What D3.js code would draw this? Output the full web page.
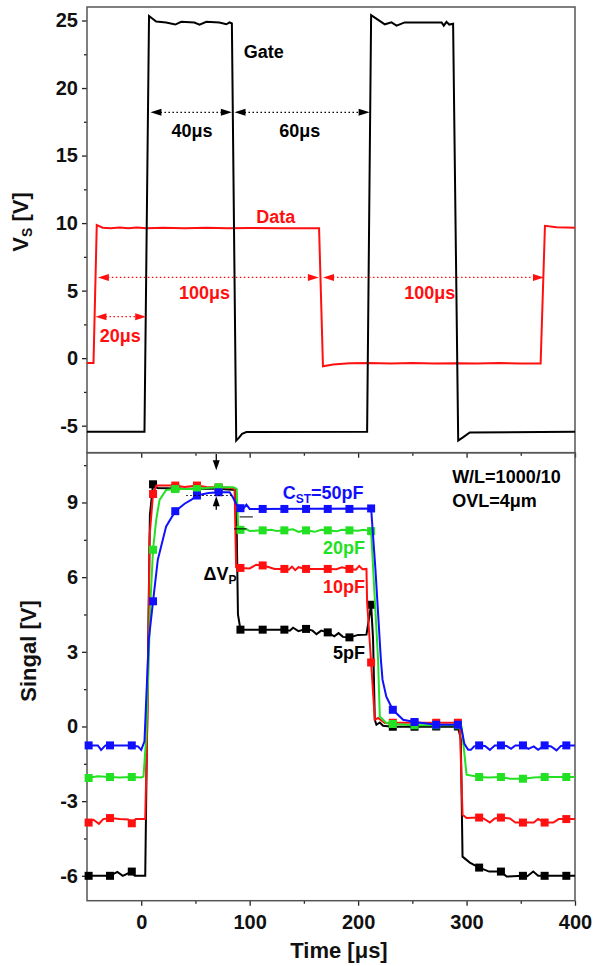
<!DOCTYPE html>
<html>
<head>
<meta charset="utf-8">
<title>Gate / data pulses and storage signal</title>
<style>
body { margin: 0; background: #fff; }
svg text { font-family: "Liberation Sans", Arial, sans-serif; font-weight: bold; }
</style>
</head>
<body>
<div id="chart"></div>
<script src="https://d3js.org/d3.v7.min.js"></script>
<script>
// ---- values (time in us, volts) ----

// top panel
const gateWave = [[-50,-5.45],[3,-5.45],[7.2,25.33],[13.8,24.93],[23,24.85],[31.4,24.7],[36.9,24.9],
  [49,24.85],[53.8,24.7],[60,24.9],[72,24.85],[78.5,24.72],[81.5,24.86],[83.6,24.78],[87.6,-6.1],
  [90,-5.9],[93,-5.6],[97,-5.47],[208.3,-5.45],[212,25.4],[224.6,24.72],[230.8,24.86],[235.4,24.62],
  [243,24.86],[277,24.86],[279,24.62],[281.5,24.9],[284,24.7],[287.6,24.76],[292.3,-6.1],[297,-5.85],
  [303,-5.5],[400,-5.45]];

const dataWave = [[-50,-0.35],[-44,-0.35],[-41,9.85],[-35.5,9.66],[-28,9.62],[-20,9.68],[-12,9.62],
  [-4,9.67],[5,9.62],[20,9.66],[40,9.62],[60,9.66],[80,9.62],[100,9.64],[130,9.62],[164,9.62],
  [167.6,-0.6],[176.9,-0.47],[192,-0.38],[210,-0.36],[230,-0.4],[250,-0.36],[270,-0.4],[290,-0.37],
  [310,-0.4],[330,-0.36],[350,-0.4],[368.3,-0.4],[372.3,9.8],[383,9.7],[400,9.65]];

// bottom panel: traces
const line5pF = [[-50,-6],[-29,-6],[-22,-5.84],[-17,-6],[-8.7,-5.83],[-6,-6],[3.7,-6],[6,2],[8,8.5],
  [10.9,9.73],[15,9.58],[40,9.55],[70,9.55],[87.5,9.5],[89.2,4.5],[91.5,3.89],[132,3.89],[137,3.85],
  [140,3.97],[145,3.83],[152,3.92],[158,3.85],[161.6,3.71],[166,3.85],[172,3.78],[178,3.62],[182,3.75],
  [186,3.6],[192,3.58],[200,3.68],[207.7,3.69],[212,4.89],[213.8,3.5],[215.4,0.27],[216.9,0.07],
  [220,0.16],[223,0.03],[232,-0.01],[292,0],[294.7,-0.5],[296.3,-5.23],[303,-5.47],[311.6,-5.67],
  [320.9,-5.83],[331.7,-5.83],[336.9,-6.03],[352,-6],[356,-6.02],[361.5,-5.83],[366,-6],[400,-6]];

const line10pF = [[-50,-3.85],[-44,-3.75],[-39,-3.91],[-35,-3.72],[-28.8,-3.68],[-20,-3.72],[-12,-3.74],
  [-8.7,-3.89],[-5,-3.72],[3.7,-3.72],[6.1,1.07],[7.7,7.64],[10.9,9.34],[14,9.68],[31.4,9.68],[40,9.62],
  [51.4,9.68],[60,9.62],[71.4,9.6],[80,9.6],[86.1,9.55],[87.5,6.4],[91.5,6.37],[100,6.35],[106,6.5],
  [112,6.47],[118,6.4],[123,6.33],[132,6.33],[136,6.3],[139,6.42],[142,6.28],[145,6.4],[152,6.33],
  [172,6.33],[180,6.32],[185,6.4],[192,6.33],[198,6.3],[201,6.45],[204,6.32],[207.7,6.33],[208.3,5],
  [212,2.57],[215.4,0.27],[218.4,0.34],[224.6,0.14],[232,0.15],[272,0.15],[290.8,0.15],[293.8,0.07],
  [296.3,-3.55],[300,-3.68],[311.6,-3.66],[316,-3.7],[321.5,-3.86],[326,-3.7],[331.7,-3.66],[340,-3.7],
  [345,-3.86],[352,-3.86],[362,-3.86],[366,-3.72],[372,-3.86],[380,-3.86],[385,-3.72],[392,-3.72],[400,-3.72]];

const line20pF = [[-50,-2.07],[-40,-2],[-28.8,-2.03],[-20,-2.05],[-8.7,-2.03],[0,-2.05],[2.1,-2.01],
  [4.5,-0.5],[6,1.5],[8.5,5],[10.9,7.1],[13.8,8.3],[16.9,9.1],[23,9.5],[31.4,9.54],[51.4,9.54],[60,9.58],
  [71.4,9.61],[85,9.61],[88,9.55],[89.5,7.9],[91.5,7.9],[97,7.93],[100,7.85],[112,7.88],[120,7.9],
  [125,7.85],[132,7.88],[140,7.92],[145,7.82],[152,7.88],[160,7.82],[166,7.9],[172,7.88],[180,7.84],
  [185,7.9],[192,7.88],[200,7.86],[205,7.9],[212,7.85],[218.4,2.68],[220,0.4],[226,0.14],[232,0.1],
  [252,0.05],[272,0.05],[292,0.05],[295.4,0],[300,-1.94],[311.6,-2.03],[320,-2.05],[331.7,-2.03],
  [340,-2.1],[352,-2.1],[362,-2.05],[372,-2.03],[392,-2.03],[400,-2.03]];

const line50pF = [[-50,-0.76],[-40,-0.76],[-37,-0.94],[-33,-0.76],[-8.7,-0.76],[-3,-0.8],[0,-0.94],
  [3,-0.6],[4.6,1.07],[7,3.5],[10.9,5.03],[15.3,6.7],[23,8.04],[31.4,8.65],[40,8.95],[46,9.1],[51.4,9.28],
  [62,9.38],[71.4,9.41],[81.5,9.41],[84.6,9.2],[88,8.9],[91.5,8.77],[94,8.74],[97,8.91],[100,8.74],
  [212,8.76],[216,6.3],[221,2.68],[222.5,1.88],[226,1.2],[232,0.67],[241.5,0.27],[252,0.18],[272,0.07],
  [292,0.07],[295.4,-0.1],[298,-0.7],[301.5,-0.94],[304,-0.94],[307,-0.8],[311.6,-0.76],[317,-0.78],
  [321.5,-0.94],[326,-0.76],[331.7,-0.76],[337,-0.78],[341,-0.9],[345,-0.76],[352,-0.76],[357,-0.9],
  [362,-0.8],[366,-0.94],[372,-0.76],[378,-0.8],[383,-0.96],[387,-0.78],[392,-0.76],[400,-0.76]];

// bottom panel: square symbols (same sample times for every trace)
const markTimes = [-48.5,-28.8,-8.7,10.9,31.4,51.4,71.4,91.5,112,132,152,172,192,212,232,252,272,292,311.6,331.7,352,372,392];
const mark5pF  = [-6,-6,-5.83,9.73,9.58,9.55,9.55,3.89,3.89,3.89,3.92,3.78,3.58,4.89,-0.01,-0.01,0,0,-5.67,-5.83,-6,-6,-6];
const mark10pF = [-3.86,-3.68,-3.89,9.34,9.68,9.68,9.6,6.37,6.47,6.33,6.33,6.33,6.33,2.57,0.15,0.15,0.15,0.15,-3.66,-3.66,-3.86,-3.86,-3.72];
const mark20pF = [-2.07,-2.03,-2.03,7.1,9.54,9.54,9.61,7.9,7.88,7.88,7.88,7.88,7.88,7.85,0.1,0.05,0.05,0.05,-2.03,-2.03,-2.1,-2.03,-2.03];
const mark50pF = [-0.76,-0.76,-0.76,5.03,8.65,9.28,9.41,8.77,8.74,8.74,8.74,8.74,8.74,8.76,0.67,0.18,0.07,0.07,-0.76,-0.76,-0.76,-0.76,-0.76];

// ticks
const xMajor = [0, 100, 200, 300, 400];
const xMinor = [50, 150, 250, 350];
const yTopMajor = [-5, 0, 5, 10, 15, 20, 25];
const yTopMinor = [-2.5, 2.5, 7.5, 12.5, 17.5, 22.5];
const yBotMajor = [-6, -3, 0, 3, 6, 9];
const yBotMinor = [-4.5, -1.5, 1.5, 4.5, 7.5, 10.5];

// ---- layout ----
const width = 594, height = 966;
const L = 87, R = 575, T = 7, M = 452.7, B = 900.7;

const svg = d3.select('#chart').append('svg')
  .attr('width', width).attr('height', height);

const x = d3.scaleLinear().domain([-50, 400]).range([L, R]);
const yTop = d3.scaleLinear().domain([-7, 26]).range([M, T]);
const yBot = d3.scaleLinear().domain([-7, 11]).range([B, M]);

const red = '#ff1010', green = '#22e022', blue = '#1010ff';

// axes (ticks only, frames drawn separately)
function ticks(g, axis) {
  g.call(axis);
  g.select('.domain').remove();
  g.selectAll('line').attr('stroke', '#222').attr('stroke-width', 1.3);
  g.selectAll('text').attr('font-size', 20).attr('fill', '#111')
    .attr('font-family', '"Liberation Sans", Arial, sans-serif').attr('font-weight', 'bold');
}
const fmt = d => String(d);

svg.append('g').attr('transform', `translate(${L},0)`)
  .call(ticks, d3.axisLeft(yTop).tickValues(yTopMajor).tickSize(5).tickPadding(4).tickFormat(fmt));
svg.append('g').attr('transform', `translate(${L},0)`)
  .call(ticks, d3.axisLeft(yTop).tickValues(yTopMinor).tickSize(3).tickFormat(''));
svg.append('g').attr('transform', `translate(${L},0)`)
  .call(ticks, d3.axisLeft(yBot).tickValues(yBotMajor).tickSize(5).tickPadding(4).tickFormat(fmt));
svg.append('g').attr('transform', `translate(${L},0)`)
  .call(ticks, d3.axisLeft(yBot).tickValues(yBotMinor).tickSize(3).tickFormat(''));

// ticks under the top panel (no labels)
svg.append('g').attr('transform', `translate(0,${M})`)
  .call(ticks, d3.axisBottom(x).tickValues(xMajor).tickSize(5).tickFormat(''));
svg.append('g').attr('transform', `translate(0,${M})`)
  .call(ticks, d3.axisBottom(x).tickValues(xMinor).tickSize(3).tickFormat(''));
// bottom axis
const xAx = svg.append('g').attr('transform', `translate(0,${B})`)
  .call(ticks, d3.axisBottom(x).tickValues(xMajor).tickSize(5).tickPadding(9).tickFormat(fmt));
svg.append('g').attr('transform', `translate(0,${B})`)
  .call(ticks, d3.axisBottom(x).tickValues(xMinor).tickSize(3).tickFormat(''));

// frames
[[T, M], [M, B]].forEach(([a, b]) => {
  svg.append('rect').attr('x', L).attr('y', a).attr('width', R - L).attr('height', b - a)
    .attr('fill', 'none').attr('stroke', '#555').attr('stroke-width', 1.5);
});

// ---- top panel ----
const lineTop = d3.line().x(d => x(d[0])).y(d => yTop(d[1]));
const lineBot = d3.line().x(d => x(d[0])).y(d => yBot(d[1]));

svg.append('path').datum(dataWave).attr('d', lineTop)
  .attr('fill', 'none').attr('stroke', red).attr('stroke-width', 2);
svg.append('path').datum(gateWave).attr('d', lineTop)
  .attr('fill', 'none').attr('stroke', '#000').attr('stroke-width', 2);

// double headed dotted arrows
function arrow(x1, x2, yPix, color) {
  const g = svg.append('g');
  g.append('line').attr('x1', x1 + 10).attr('x2', x2 - 10).attr('y1', yPix).attr('y2', yPix)
    .attr('stroke', color).attr('stroke-width', 1.2).attr('stroke-dasharray', '1.5,2.5');
  g.append('path').attr('d', `M${x1},${yPix}L${x1 + 11},${yPix - 3.5}L${x1 + 11},${yPix + 3.5}Z`).attr('fill', color);
  g.append('path').attr('d', `M${x2},${yPix}L${x2 - 11},${yPix - 3.5}L${x2 - 11},${yPix + 3.5}Z`).attr('fill', color);
}
arrow(x(8.5), x(83.6), yTop(18.2), '#000');
arrow(x(86), x(210.6), yTop(18.2), '#000');
arrow(x(-40), x(163.8), yTop(5.98), red);
arrow(x(167.6), x(371.4), yTop(5.98), red);
arrow(x(-42.2), x(4.6), yTop(3.07), red);

const topNotes = [
  [112.9, 22.69, 'Gate', '#000'],
  [46.9, 16.89, '40\u03bcs', '#000'],
  [146.1, 16.89, '60\u03bcs', '#000'],
  [124, 10.47, 'Data', red],
  [58.4, 4.87, '100\u03bcs', red],
  [266.1, 4.87, '100\u03bcs', red],
  [-19.3, 1.7, '20\u03bcs', red]
];
svg.append('g').selectAll('text').data(topNotes).join('text')
  .attr('x', d => x(d[0])).attr('y', d => yTop(d[1])).attr('dy', '0.36em')
  .attr('text-anchor', 'middle').attr('font-size', 18).attr('fill', d => d[3]).text(d => d[2]);

// ---- bottom panel ----
const series = [
  { line: line5pF, marks: mark5pF, color: '#000' },
  { line: line10pF, marks: mark10pF, color: red },
  { line: line20pF, marks: mark20pF, color: green },
  { line: line50pF, marks: mark50pF, color: blue }
];
series.forEach(s => {
  svg.append('path').datum(s.line).attr('d', lineBot)
    .attr('fill', 'none').attr('stroke', s.color).attr('stroke-width', 2);
  svg.append('g').selectAll('rect').data(markTimes.map((t, i) => [t, s.marks[i]])).join('rect')
    .attr('x', d => x(d[0]) - 4).attr('y', d => yBot(d[1]) - 4)
    .attr('width', 8).attr('height', 8).attr('fill', s.color);
});

// delta Vp marks
const dv = svg.append('g').attr('stroke', '#000');
dv.append('line').attr('x1', x(41.5)).attr('x2', x(84.6)).attr('y1', yBot(9.28)).attr('y2', yBot(9.28))
  .attr('stroke-width', 1.2).attr('stroke-dasharray', '1.5,2.5');
dv.append('line').attr('x1', x(69.2)).attr('x2', x(69.2)).attr('y1', yBot(10.95)).attr('y2', yBot(10.5)).attr('stroke-width', 1.3);
dv.append('path').attr('stroke', 'none').attr('fill', '#000')
  .attr('d', `M${x(69.2)},${yBot(10.29)}l-3.5,-10l7,0Z`);
dv.append('line').attr('x1', x(69.2)).attr('x2', x(69.2)).attr('y1', yBot(8.71)).attr('y2', yBot(9.0)).attr('stroke-width', 1.3);
dv.append('path').attr('stroke', 'none').attr('fill', '#000')
  .attr('d', `M${x(69.2)},${yBot(9.25)}l-3.5,10l7,0Z`);
dv.append('line').attr('x1', x(90.7)).attr('x2', x(103)).attr('y1', yBot(8.42)).attr('y2', yBot(8.42)).attr('stroke-width', 1);
dv.append('line').attr('x1', x(85.5)).attr('x2', x(96.9)).attr('y1', yBot(7.94)).attr('y2', yBot(7.94)).attr('stroke-width', 1);

function note(t, v, color, main, sub, rest) {
  const tx = svg.append('text').attr('x', x(t)).attr('y', yBot(v)).attr('dy', '0.36em')
    .attr('font-size', 18).attr('fill', color);
  tx.append('tspan').text(main);
  if (sub) tx.append('tspan').attr('font-size', 12).attr('dy', '0.35em').text(sub);
  if (rest) tx.append('tspan').attr('dy', '-0.23em').text(rest);
}
note(286.7, 10.06, '#000', 'W/L=1000/10');
note(286.7, 9.06, '#000', 'OVL=4\u03bcm');
note(130.4, 9.39, blue, 'C', 'ST', '=50pF');
note(167.6, 7.18, green, '20pF');
note(167.6, 5.62, red, '10pF');
note(176.9, 2.96, '#000', '5pF');
note(57.5, 6.15, '#000', '\u0394V', 'P');

// axis titles
svg.append('text').attr('transform', `translate(28,222) rotate(-90)`)
  .attr('text-anchor', 'middle').attr('font-size', 22).attr('fill', '#111')
  .call(t => {
    t.append('tspan').text('V');
    t.append('tspan').attr('font-size', 14).attr('dy', '0.3em').text('S');
    t.append('tspan').attr('dy', '-0.2em').text(' [V]');
  });
svg.append('text').attr('transform', `translate(36,651) rotate(-90)`)
  .attr('text-anchor', 'middle').attr('font-size', 22).attr('fill', '#111').text('Singal [V]');
svg.append('text').attr('x', 339).attr('y', 958)
  .attr('text-anchor', 'middle').attr('font-size', 22).attr('fill', '#111').text('Time [\u03bcs]');
</script>
</body>
</html>
